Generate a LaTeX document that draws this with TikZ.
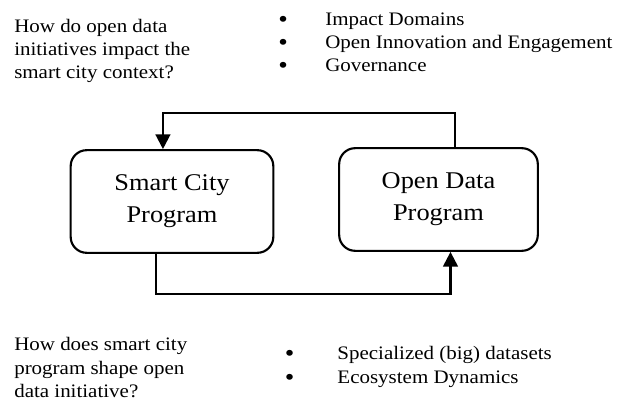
\documentclass[tikz,border=0pt]{standalone}
\usepackage{fontspec}
\usepackage{graphicx}
\setmainfont{Liberation Serif}[FakeStretch=1.1]
\usetikzlibrary{arrows.meta}

\tikzset{
  program/.style={draw, line width=1.6pt, rounded corners=12pt,
    minimum height=77pt, inner sep=0pt, align=center,
    font=\fontsize{18}{24}\selectfont},
  question/.style={anchor=north west, inner sep=0pt, align=left,
    font=\fontsize{14.3}{17.25}\selectfont},
  link/.style={->, line width=1.6pt},
}
\newcommand{\itm}[1][35.25pt]{\makebox[#1][l]{\raisebox{-1.3pt}{\scalebox{1.3}{\textbullet}}}}

\begin{document}
\begin{tikzpicture}[x=0.75pt, y=-0.75pt, >={Triangle[width=11pt,length=11pt]}]
  \useasboundingbox (0,0) rectangle (619,402);

  % programs
  \node[program, minimum width=152pt] (scp) at (172,201.5) {Smart City\\Program};
  \node[program, minimum width=149pt] (odp) at (438.5,199.5) {Open Data\\Program};

  % open data -> smart city
  \draw[link] ([xshift=12.4pt]odp.north) -- ++(0,-34) -| ([xshift=-6.8pt]scp.north);
  % smart city -> open data
  \draw[link] ([xshift=-12pt]scp.south) -- ++(0,40) -| ([xshift=9pt]odp.south);

  % questions and themes
  \node[question] (q1) at (14,18.7) {How do open data\\initiatives impact the\\smart city context?};
  \node[question] (t1) at (278,12.6)
    {\itm Impact Domains\\\itm Open Innovation and Engagement\\\itm Governance};
  \node[question, font=\fontsize{14.3}{17.6}\selectfont] (q2) at (14,337.5) {How does smart city\\program shape open\\data initiative?};
  \node[question, font=\fontsize{14.3}{17.6}\selectfont] (t2) at (284.5,346.5)
    {\itm[35.6pt] Specialized (big) datasets\\\itm[35.6pt] Ecosystem Dynamics};
\end{tikzpicture}
\end{document}
